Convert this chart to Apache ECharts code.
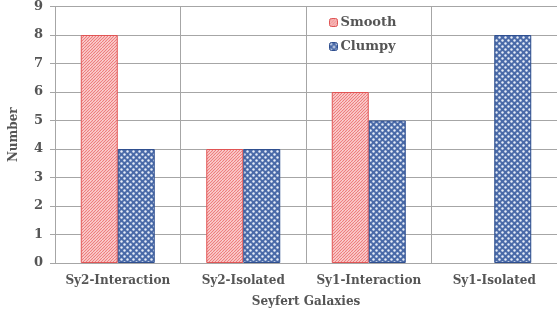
<!DOCTYPE html>
<html>
<head>
<meta charset="utf-8">
<script src="https://cdn.jsdelivr.net/npm/echarts@6/dist/echarts.min.js"></script>
<style>
  html, body { margin: 0; padding: 0; background: #ffffff; }
  #chart { width: 557px; height: 314px; }
</style>
</head>
<body>
<div id="chart"></div>
<script>
// Seyfert galaxy counts by environment, smooth vs clumpy hosts.
const categories = ['Sy2-Interaction', 'Sy2-Isolated', 'Sy1-Interaction', 'Sy1-Isolated'];
const smooth = [8, 4, 6, 0];
const clumpy = [4, 4, 5, 8];
const yTicks = { min: 0, max: 9, interval: 1 };

const FONT = '"DejaVu Serif", "Liberation Serif", serif';
const TEXT = '#555555';
const GRID = '#a6a6a6';

// Small tiles drawn once and repeated as fills — red hatching for smooth, blue dots for clumpy.
function hatchTile() {
  const c = document.createElement('canvas');
  c.width = 6; c.height = 6;
  const g = c.getContext('2d');
  g.fillStyle = '#fde2e2';
  g.fillRect(0, 0, 6, 6);
  g.strokeStyle = '#ee7b7b';
  g.lineWidth = 1.2;
  g.beginPath();
  for (let k = -6; k <= 12; k += 3) { g.moveTo(k, 6); g.lineTo(k + 6, 0); }
  g.stroke();
  return c;
}
function dotTile() {
  const c = document.createElement('canvas');
  c.width = 6; c.height = 6;
  const g = c.getContext('2d');
  g.fillStyle = '#4a6aa8';
  g.fillRect(0, 0, 6, 6);
  g.fillStyle = '#e8eef8';
  g.beginPath(); g.arc(1.5, 1.5, 1.2, 0, Math.PI * 2); g.fill();
  g.beginPath(); g.arc(4.5, 4.5, 1.2, 0, Math.PI * 2); g.fill();
  return c;
}
const hatch = { image: hatchTile(), repeat: 'repeat' };
const dots = { image: dotTile(), repeat: 'repeat' };

// a zero count draws no bar at all (no stray border line on the axis)
const noZero = (arr) => arr.map((v) => (v === 0 ? '-' : v));

const chart = echarts.init(document.getElementById('chart'), null, { renderer: 'canvas' });
chart.setOption({
  backgroundColor: '#ffffff',
  animation: false,
  textStyle: { fontFamily: FONT },
  // the original plot runs a few pixels past the right edge of the picture (its last gridline is cut off)
  grid: { left: 50, right: -6, top: 5, bottom: 51 },
  legend: {
    orient: 'vertical',
    left: 327, top: 12,
    itemWidth: 8, itemHeight: 8, itemGap: 11,
    padding: [4, 2],
    textStyle: { fontFamily: FONT, fontSize: 13, color: TEXT, fontWeight: 'bold', padding: [0, 0, 0, -2] },
    data: [
      { name: 'Smooth', itemStyle: { color: hatch, borderColor: '#e05555', borderWidth: 1 } },
      { name: 'Clumpy', itemStyle: { color: dots, borderColor: '#2f4f8f', borderWidth: 1 } },
    ],
  },
  xAxis: {
    type: 'category',
    data: categories,
    name: 'Seyfert Galaxies',
    nameLocation: 'middle',
    nameGap: 33,
    nameTextStyle: { fontFamily: FONT, fontSize: 12, color: TEXT, fontWeight: 'bold' },
    axisLine: { lineStyle: { color: GRID } },
    axisTick: { show: false },
    axisLabel: { interval: 0, fontFamily: FONT, fontSize: 12, color: TEXT, fontWeight: 'bold', margin: 12 },
    splitLine: { show: true, interval: 0, lineStyle: { color: GRID } },
  },
  yAxis: {
    type: 'value',
    min: yTicks.min, max: yTicks.max, interval: yTicks.interval,
    name: 'Number',
    nameLocation: 'middle',
    nameGap: 35,
    nameTextStyle: { fontFamily: FONT, fontSize: 12, color: TEXT, fontWeight: 'bold' },
    axisLine: { show: true, lineStyle: { color: GRID } },
    axisTick: { show: true, length: 5, lineStyle: { color: GRID } },
    axisLabel: { fontFamily: FONT, fontSize: 13, color: TEXT, fontWeight: 'bold', margin: 12 },
    splitLine: { show: true, lineStyle: { color: GRID } },
  },
  series: [
    {
      name: 'Smooth', type: 'bar', data: noZero(smooth),
      barWidth: 37, barGap: '0%',
      itemStyle: { color: hatch, borderColor: '#e05555', borderWidth: 1 },
    },
    {
      name: 'Clumpy', type: 'bar', data: noZero(clumpy),
      barWidth: 37,
      itemStyle: { color: dots, borderColor: '#2f4f8f', borderWidth: 1 },
    },
  ],
});
</script>
</body>
</html>
